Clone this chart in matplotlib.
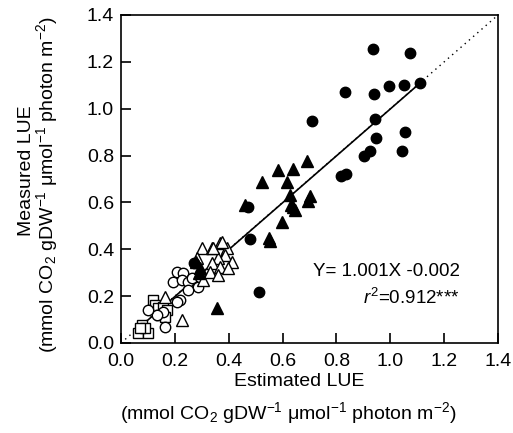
import numpy as np
import matplotlib.pyplot as plt

plt.rcParams['font.family'] = ['Liberation Sans', 'DejaVu Sans']
plt.rcParams['mathtext.fontset'] = 'custom'
plt.rcParams['mathtext.rm'] = 'Liberation Sans'
plt.rcParams['mathtext.it'] = 'Liberation Sans:italic'
plt.rcParams['mathtext.default'] = 'regular'

# filled circles
fc_x = [0.934, 1.072, 0.831, 0.939, 0.994, 1.051, 1.109, 0.942, 1.055, 0.945, 0.924, 0.902,
        1.045, 0.835, 0.815, 0.472, 0.479, 0.513, 0.709, 0.27]
fc_y = [1.255, 1.238, 1.071, 1.063, 1.098, 1.101, 1.110, 0.956, 0.899, 0.873, 0.821, 0.800,
        0.821, 0.722, 0.711, 0.582, 0.444, 0.219, 0.949, 0.34]
# filled triangles
ft_x = [0.689, 0.639, 0.584, 0.522, 0.617, 0.627, 0.701, 0.639, 0.695, 0.646, 0.596, 0.55,
        0.553, 0.46, 0.355, 0.28, 0.293, 0.29, 0.633]
ft_y = [0.775, 0.744, 0.739, 0.689, 0.685, 0.632, 0.628, 0.582, 0.608, 0.568, 0.518, 0.45,
        0.434, 0.59, 0.15, 0.347, 0.32, 0.30, 0.59]
# open triangles
ot_x = [0.299, 0.336, 0.367, 0.392, 0.386, 0.411, 0.361, 0.336, 0.367, 0.398, 0.330, 0.361,
        0.281, 0.163, 0.225, 0.305, 0.342, 0.374]
ot_y = [0.405, 0.405, 0.426, 0.405, 0.376, 0.347, 0.362, 0.341, 0.326, 0.319, 0.305, 0.291,
        0.362, 0.198, 0.098, 0.269, 0.405, 0.433]
# open circles
oc_x = [0.207, 0.231, 0.194, 0.225, 0.25, 0.262, 0.287, 0.25, 0.219, 0.207, 0.157, 0.163,
        0.132, 0.101, 0.293]
oc_y = [0.305, 0.298, 0.262, 0.269, 0.262, 0.276, 0.241, 0.226, 0.184, 0.177, 0.134, 0.07,
        0.12, 0.141, 0.283]
# open squares
os_x = [0.12, 0.126, 0.138, 0.157, 0.17, 0.145, 0.163, 0.077, 0.064, 0.101, 0.089, 0.07]
os_y = [0.184, 0.162, 0.148, 0.155, 0.141, 0.12, 0.112, 0.077, 0.041, 0.041, 0.063, 0.063]

slope, intercept = 1.001, -0.002
unit = '(mmol CO$_2$ gDW$^{-1}$ \u03bcmol$^{-1}$ photon m$^{-2}$)'

fig = plt.figure(figsize=(5.13, 4.33), dpi=100)
ax = fig.add_axes([0.2359, 0.2079, 0.735, 0.7575])

ax.plot([0, 1.4], [0, 1.4], ls=(0, (1, 3)), color='black', lw=1)
all_x = fc_x + ft_x + ot_x + oc_x + os_x
lx = np.array([0.06, max(all_x)])
ax.plot(lx, slope * lx + intercept, color='black', lw=1.2)

ms = 7.5
ax.plot(os_x, os_y, 's', mfc='white', mec='black', mew=1, ms=ms, ls='none')
ax.plot(oc_x, oc_y, 'o', mfc='white', mec='black', mew=1, ms=ms, ls='none')
ax.plot(ot_x, ot_y, '^', mfc='white', mec='black', mew=1, ms=ms + 0.5, ls='none')
ax.plot(ft_x, ft_y, '^', color='black', ms=ms + 0.5, ls='none')
ax.plot(fc_x, fc_y, 'o', color='black', ms=ms, ls='none')

ax.set_xlim(0, 1.4)
ax.set_ylim(0, 1.4)
ticks = [0.0, 0.2, 0.4, 0.6, 0.8, 1.0, 1.2, 1.4]
ax.set_xticks(ticks)
ax.set_yticks(ticks)
ax.set_xticklabels(['%.1f' % t for t in ticks])
ax.set_yticklabels(['%.1f' % t for t in ticks])
ax.tick_params(direction='in', length=7, width=1.2, labelsize=14, pad=5)
ax.tick_params(axis='x', pad=7)
for s in ax.spines.values():
    s.set_linewidth(1.2)

fig.text(299 / 513, 1 - 381 / 433, 'Estimated LUE', ha='center', va='center', fontsize=14)
fig.text(288 / 513, 1 - 413 / 433, unit, ha='center', va='center', fontsize=14)
fig.text(27 / 513, 1 - 171 / 433, 'Measured LUE', rotation=90, ha='center', va='center', fontsize=14)
fig.text(47 / 513, 1 - 185 / 433, unit, rotation=90, ha='center', va='center', fontsize=14)

ax.text(1.258, 0.303, 'Y= 1.001X -0.002', ha='right', va='center', fontsize=13.5)
ax.text(1.258, 0.192, '$\\mathit{r}^2$=0.912***', ha='right', va='center', fontsize=13.5)

fig.savefig('out.png', dpi=100)
